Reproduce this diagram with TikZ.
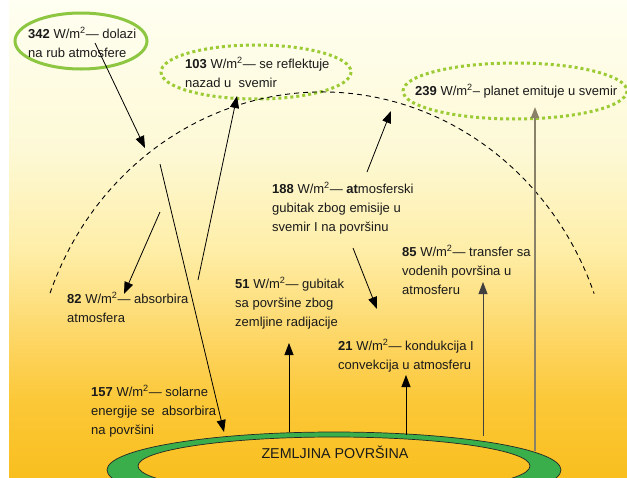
\documentclass[tikz,border=0pt]{standalone}
\usepackage{fontspec}
\setmainfont{Liberation Sans}
\usetikzlibrary{arrows.meta}
\definecolor{bgA}{HTML}{FFFFF2}
\definecolor{bgB}{HTML}{FDF9D6}
\definecolor{bgC}{HTML}{FEEEA8}
\definecolor{bgD}{HTML}{FDD35C}
\definecolor{bgE}{HTML}{FBC838}
\definecolor{bgF}{HTML}{F9BF1F}
\definecolor{ringgreen}{HTML}{8DC641}
\definecolor{dotgreen}{HTML}{9CCB36}
\definecolor{earth}{HTML}{39AE4A}
\definecolor{txt}{HTML}{1A1A1A}
\definecolor{grayline}{HTML}{8A8268}
\pgfdeclareverticalshading{bgshade}{100bp}{color(0bp)=(bgF); color(25bp)=(bgF); color(33.07bp)=(bgE); color(38.31bp)=(bgD); color(48.79bp)=(bgC); color(59.28bp)=(bgB); color(75bp)=(bgA); color(100bp)=(bgA)}
\tikzset{
  lbl/.style={anchor=base west, inner sep=0pt, align=left, text=txt, font=\fontsize{13}{19}\selectfont},
  arr/.style={-{Triangle[length=12pt,width=9pt]}, line width=0.8pt, draw=black},
  solidring/.style={draw=ringgreen, line width=3pt},
  dotring/.style={draw=dotgreen, line width=3pt, dash pattern=on 3pt off 3pt},
  atmo/.style={draw=black, line width=0.9pt, dash pattern=on 5pt off 4pt},
}
\begin{document}
\begin{tikzpicture}[x=1pt,y=-1pt]
\useasboundingbox (0,0) rectangle (627,477);
\fill[white] (0,0) rectangle (627,477);
\shade[shading=bgshade] (9,0) rectangle (627,477);

% ellipses
\coordinate (e342) at (81,41);
\draw[solidring] (e342) ellipse [x radius=66, y radius=28];
\coordinate (e103) at (256,72);
\draw[dotring] (e103) ellipse [x radius=95, y radius=27];
\coordinate (e239) at (515,91);
\draw[dotring] (e239) ellipse [x radius=112, y radius=28];

% atmosphere boundary
\coordinate (atmc) at (322,400);
\draw[atmo] (atmc) ++(200.3:290 and 308) arc[start angle=200.3, end angle=339.8, x radius=290, y radius=308];

% earth surface ring
\coordinate (earthc) at (334,470);
\path[fill=earth, draw=black!85, line width=0.7pt, even odd rule]
  (earthc) ellipse [x radius=227, y radius=38]
  (334,466) ellipse [x radius=196, y radius=29];
\node[inner sep=0pt, anchor=base, text=txt, font=\fontsize{14.3}{17}\selectfont] (zp) at (335,458) {ZEMLJINA POVRŠINA};

% texts (anchor = baseline of last line)
\node[lbl] (t342) at (28,57) {\textbf{342} W/m\textsuperscript{2}— dolazi\\na rub atmosfere};
\node[lbl] (t103) at (185,87) {\textbf{103} W/m\textsuperscript{2}— se reflektuje\\nazad u\ \ svemir};
\node[lbl] (t239) at (415,95) {\textbf{239} W/m\textsuperscript{2}– planet emituje u svemir};
\node[lbl] (t188) at (272,231) {\textbf{188} W/m\textsuperscript{2}— \textbf{at}mosferski\\gubitak zbog emisije u\\svemir I na površinu};
\node[lbl] (t85) at (402,294) {\textbf{85} W/m\textsuperscript{2}— transfer sa\\vodenih površina u\\atmosferu};
\node[lbl] (t51) at (235,326) {\textbf{51} W/m\textsuperscript{2}— gubitak\\sa površine zbog\\zemljine radijacije};
\node[lbl] (t82) at (67,322) {\textbf{82} W/m\textsuperscript{2}— absorbira\\atmosfera};
\node[lbl] (t21) at (338,369) {\textbf{21} W/m\textsuperscript{2}— kondukcija I\\convekcija u atmosferu};
\node[lbl] (t157) at (91,434) {\textbf{157} W/m\textsuperscript{2}— solarne\\energije se\ \ absorbira\\na površini};

% arrow end points
\coordinate (a342s) at (95,43);   \coordinate (a342e) at (145,148);
\coordinate (a157s) at (160,164); \coordinate (a157e) at (224,432);
\coordinate (a82s) at (160,212);  \coordinate (a82e) at (124,294);
\coordinate (a103s) at (198,280); \coordinate (a103e) at (237,96);
\coordinate (a188us) at (367,172);\coordinate (a188ue) at (391,111);
\coordinate (a188ds) at (353,248);\coordinate (a188de) at (377,309);
\coordinate (a51s) at (289,432);  \coordinate (a51e) at (289,343);
\coordinate (a21s) at (406,435);  \coordinate (a21e) at (406,375);
\coordinate (a85s) at (483,436);  \coordinate (a85e) at (483,282);
\coordinate (a239s) at (535,451); \coordinate (a239e) at (535,107);

\draw[arr] (a342s) -- (a342e);
\draw[arr] (a157s) -- (a157e);
\draw[arr] (a82s) -- (a82e);
\draw[arr] (a103s) -- (a103e);
\draw[arr] (a188us) -- (a188ue);
\draw[arr] (a188ds) -- (a188de);
\draw[arr] (a51s) -- (a51e);
\draw[arr] (a21s) -- (a21e);
\draw[arr, draw=black!75] (a85s) -- (a85e);
\draw[arr, draw=grayline, line width=1.8pt, -{Triangle[length=11pt,width=8pt]}] (a239s) -- (a239e);
\end{tikzpicture}
\end{document}
